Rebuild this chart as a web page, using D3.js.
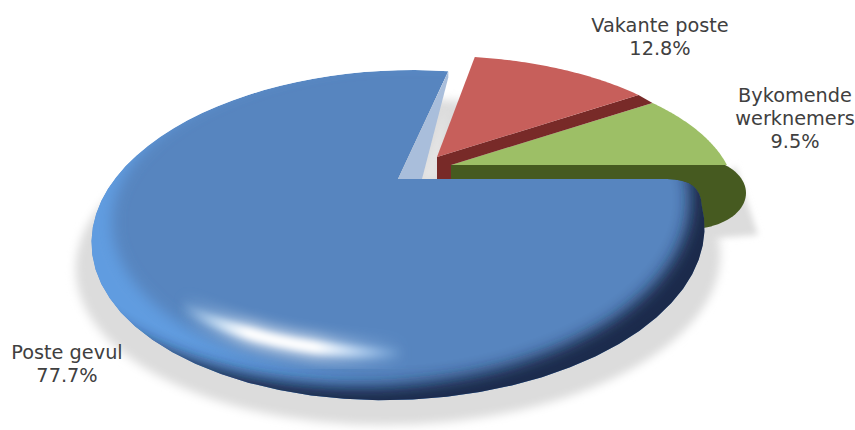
<!DOCTYPE html>
<html><head><meta charset="utf-8">
<style>html,body{margin:0;background:#fff}svg{display:block}text{font-family:"DejaVu Sans",sans-serif;font-size:19.3px;fill:#404040;text-anchor:middle}</style>
<script src="https://cdn.jsdelivr.net/npm/d3@7"></script></head><body>
<script>
const categories = ["Poste gevul", "Vakante poste", "Bykomende werknemers"];
const values = [77.7, 12.8, 9.5];
const labelLines = [["Poste gevul","77.7%"],["Vakante poste","12.8%"],["Bykomende","werknemers","9.5%"]];

const W=855,H=430, cx=398, cy=179, A=288, B=146, K=0.34, SHEAR=0.085, MIDY=235;
const svg=d3.select("body").append("svg").attr("width",W).attr("height",H);
const defs=svg.append("defs");
[["b3",3],["b5",5],["b7",7],["b8",8],["b10",10]].forEach(([id,s])=>defs.append("filter").attr("id",id)
  .attr("x","-30%").attr("y","-30%").attr("width","160%").attr("height","160%")
  .append("feGaussianBlur").attr("stdDeviation",s));

const arcs=d3.pie().sort(null).startAngle(Math.PI/2).endAngle(Math.PI*2.5)(values);
const rim=(a,ox,oy,sx,sy,k,sh=0)=>{const X=Math.sin(a),Y=-Math.cos(a),w=1-k*Y;const y=oy+sy*B*Y/w;return [ox+sx*A*X/w-sh*(y-MIDY),y];};
const sweep=(a0,a1,ox,oy,sx,sy,k,sh=0)=>d3.range(0,61).map(i=>rim(a0+(a1-a0)*i/60,ox,oy,sx,sy,k,sh));
const line=d3.line();

const redO=[437,157], greenO=[451,165], wall=14, sx=.958, sy=.856, K2=.236;
const [blue,red,green]=arcs;

// shadows
svg.append("ellipse").attr("cx",398).attr("cy",262).attr("rx",322).attr("ry",163).attr("fill","#dcdcdc")
  .attr("transform",`matrix(1,0,${-SHEAR},1,${SHEAR*262},0)`).attr("filter","url(#b5)");
svg.append("path").attr("d",line([[735,165],[758,235],[690,240]])).attr("fill","#dcdcdc").attr("filter","url(#b3)");
svg.append("path").attr("d",line([[446,108],[438,179],[420,179]])).attr("fill","#e4e4e4").attr("filter","url(#b3)");

// green outer bulge
const bulge=d3.range(-52,91,4).map(d=>{const t=d*Math.PI/180;return [690+56*Math.cos(t),193+36*Math.sin(t)];});
svg.append("path").attr("d",line([greenO,...bulge,[greenO[0],229]])+"Z").attr("fill","#465a20");
// green top
const gPts=sweep(green.startAngle,green.endAngle,greenO[0],greenO[1],sx,sy,K2);
svg.append("path").attr("d",line([greenO,...gPts])+"Z").attr("fill","#9dbf66");
// red wall
const rEnd=rim(red.endAngle,redO[0],redO[1],sx,sy,K2), gStart=gPts[0];
svg.append("path").attr("d",line([redO,rEnd,gStart,greenO,[greenO[0],greenO[1]+wall],[redO[0],greenO[1]+wall]])+"Z").attr("fill","#782a28");
// red top
svg.append("path").attr("d",line([redO,...sweep(red.startAngle,red.endAngle,redO[0],redO[1],sx,sy,K2)])+"Z").attr("fill","#c75f5b");

// blue
const bEnd=rim(blue.endAngle,cx,cy,1,1,K,SHEAR);
svg.append("path").attr("d",line([[cx,cy],bEnd,[bEnd[0],bEnd[1]+6],[cx+24,cy]])+"Z").attr("fill","#a9bedb");
const bluePts=sweep(blue.startAngle+0.17,blue.endAngle,cx,cy,1,1,K,SHEAR);
const bluePath=`M${cx},${cy}H667Q${bluePts[0][0]-1},${cy} ${bluePts[0][0]},${bluePts[0][1]}`+line(bluePts).replace(/^M/,"L")+"Z";
defs.append("clipPath").attr("id","bc").append("path").attr("d",bluePath);
const g=svg.append("g").attr("clip-path","url(#bc)");
g.append("path").attr("d",bluePath).attr("fill","#5785bf");
const ring=(x,y,rx,ry)=>`M-200,-200H1100V700H-200ZM${x-rx},${y}a${rx},${ry} 0 1 0 ${2*rx},0a${rx},${ry} 0 1 0 ${-2*rx},0Z`;
g.append("path").attr("d",ring(412,222,300,160)).attr("fill-rule","evenodd").attr("fill","#609ce0").attr("filter","url(#b7)");
g.append("path").attr("d",ring(360,200,330,185)).attr("fill-rule","evenodd").attr("fill","#14243f").attr("opacity",.92).attr("filter","url(#b8)");
const grad=defs.append("linearGradient").attr("id","hl").attr("gradientUnits","userSpaceOnUse").attr("x1",180).attr("x2",405).attr("y1",0).attr("y2",0);
[[0,"#bfe4ff",0],[.3,"#ffffff",1],[.6,"#ffffff",1],[1,"#a8d4ff",0]].forEach(([o,c,a])=>grad.append("stop").attr("offset",o).attr("stop-color",c).attr("stop-opacity",a));
const hlArc=d3.range(0,41).map(i=>{const t=Math.PI*(.2+.34*i/40);return [398-280*Math.cos(t),225+128*Math.sin(t)];});
g.append("path").attr("d",line(hlArc)).attr("fill","none").attr("stroke","url(#hl)").attr("stroke-width",24).attr("opacity",.65).attr("filter","url(#b7)");
g.append("path").attr("d",line(hlArc)).attr("fill","none").attr("stroke","url(#hl)").attr("stroke-width",11).attr("filter","url(#b3)");

// labels
const anchors=[[67,359],[660,32],[795,102]];
labelLines.forEach((ls,i)=>{const t=svg.append("text");
  ls.forEach((s,j)=>t.append("tspan").attr("x",anchors[i][0]).attr("y",anchors[i][1]+j*23).text(s));});
</script></body></html>
